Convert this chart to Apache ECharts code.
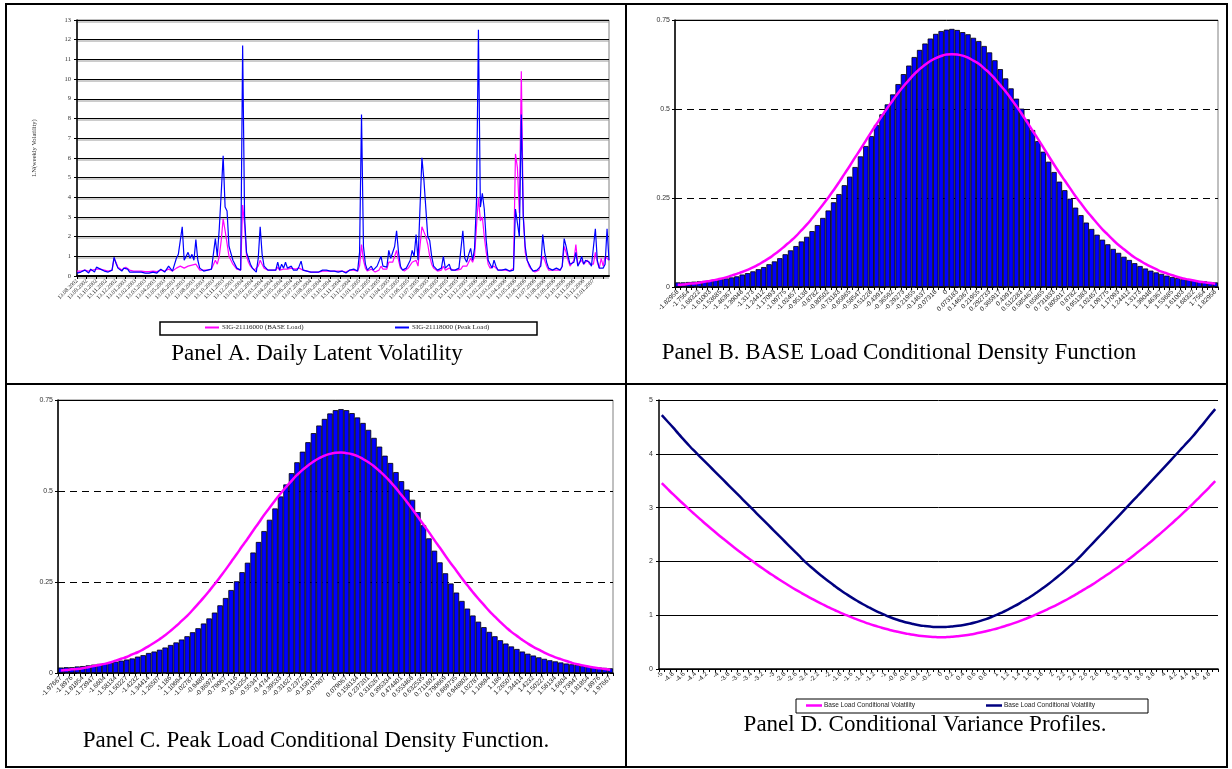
<!DOCTYPE html>
<html>
<head>
<meta charset="utf-8">
<script src="https://cdn.jsdelivr.net/npm/echarts@6/dist/echarts.min.js"></script>
<style>
html,body{margin:0;padding:0;background:#fff;}
#c{width:1232px;height:769px;}
</style>
</head>
<body>
<div id="c"></div>
<script>
// ---------- Panel A data ----------
const A_MONTHS = ['13.08.2002','13.09.2002','13.10.2002','13.11.2002','13.12.2002',
'13.01.2003','13.02.2003','13.03.2003','13.04.2003','13.05.2003','13.06.2003','13.07.2003','13.08.2003','13.09.2003','13.10.2003','13.11.2003','13.12.2003',
'13.01.2004','13.02.2004','13.03.2004','13.04.2004','13.05.2004','13.06.2004','13.07.2004','13.08.2004','13.09.2004','13.10.2004','13.11.2004','13.12.2004',
'13.01.2005','13.02.2005','13.03.2005','13.04.2005','13.05.2005','13.06.2005','13.07.2005','13.08.2005','13.09.2005','13.10.2005','13.11.2005','13.12.2005',
'13.01.2006','13.02.2006','13.03.2006','13.04.2006','13.05.2006','13.06.2006','13.07.2006','13.08.2006','13.09.2006','13.10.2006','13.11.2006','13.12.2006',
'13.01.2007'];
const A_PER_MONTH = 5;
const A_PEAK = [
0.15,0.2,0.2,0.25,0.3,0.2,0.15,0.35,0.25,0.2,
0.45,0.5,0.35,0.4,0.25,0.2,0.2,0.15,0.3,0.95,
0.65,0.4,0.3,0.25,0.4,0.5,0.35,0.2,0.15,0.2,
0.15,0.2,0.15,0.2,0.25,0.15,0.2,0.15,0.2,0.2,
0.25,0.15,0.2,0.35,0.3,0.2,0.25,0.5,0.4,0.25,
0.2,0.9,1.1,1.0,2.5,0.8,0.7,1.2,0.9,1.1,
0.8,1.85,0.8,0.4,0.3,0.25,0.2,0.3,0.3,0.35,
0.3,1.9,1.0,2.4,4.2,6.1,3.5,3.3,1.5,1.4,
0.8,0.9,0.4,0.3,0.3,11.7,3.0,1.2,1.1,0.6,
0.4,0.3,0.2,0.9,2.5,1.1,0.5,0.4,0.3,0.25,
0.3,0.25,0.3,0.7,0.3,0.6,0.4,0.7,0.4,0.3,
0.5,0.3,0.4,0.3,0.5,0.75,0.3,0.35,0.25,0.3,
0.2,0.3,0.2,0.15,0.2,0.2,0.3,0.25,0.3,0.3,
0.25,0.2,0.25,0.2,0.2,0.3,0.25,0.2,0.15,0.25,
0.3,0.3,0.35,0.3,0.25,1.2,8.2,1.5,0.6,0.3,
0.25,0.5,0.3,0.2,0.5,0.45,1.0,0.5,0.4,0.45,
1.3,0.9,1.0,1.5,2.3,1.2,0.5,0.3,0.25,0.4,
0.6,0.8,1.3,1.0,2.1,0.8,0.9,6.0,4.9,5.0,
2.0,1.8,1.0,0.5,0.4,0.3,0.3,0.4,1.0,0.4,
0.5,0.6,0.3,0.35,0.3,0.3,0.4,0.5,2.3,0.9,
0.7,1.1,1.4,0.8,1.4,3.8,12.5,3.5,4.2,3.4,
1.8,0.8,0.6,0.4,0.8,0.5,0.3,0.4,0.3,0.3,
0.35,0.3,0.25,0.3,0.3,3.4,2.7,2.0,8.2,3.0,
1.5,0.8,0.6,0.4,0.25,0.2,0.3,0.3,0.5,2.1,
1.2,0.7,0.4,0.3,0.3,0.3,0.4,0.3,0.3,0.5,
1.9,1.5,1.0,0.6,0.5,0.7,1.2,0.5,0.7,1.0,
0.6,0.8,0.9,0.7,0.5,0.6,2.4,0.8,0.4,0.5,
0.4,0.6,2.4,0.8];
const A_BASE = [
0.25,0.25,0.25,0.3,0.3,0.25,0.25,0.3,0.3,0.25,
0.35,0.4,0.35,0.35,0.3,0.25,0.25,0.25,0.3,0.9,
0.7,0.45,0.35,0.3,0.4,0.45,0.35,0.3,0.25,0.25,
0.22,0.25,0.22,0.25,0.25,0.22,0.25,0.22,0.25,0.25,
0.25,0.22,0.25,0.3,0.3,0.25,0.25,0.35,0.3,0.25,
0.25,0.4,0.5,0.5,0.6,0.4,0.4,0.5,0.45,0.55,
0.45,0.6,0.45,0.3,0.3,0.3,0.25,0.3,0.35,0.35,
0.3,0.8,0.6,1.0,1.8,2.9,2.3,2.2,1.0,0.9,
0.6,0.6,0.35,0.3,0.3,3.6,2.6,1.0,0.7,0.5,
0.4,0.3,0.25,0.5,0.8,0.6,0.4,0.35,0.3,0.3,
0.3,0.3,0.3,0.45,0.3,0.4,0.35,0.45,0.35,0.3,
0.4,0.3,0.35,0.3,0.4,0.5,0.3,0.3,0.25,0.25,
0.2,0.25,0.2,0.2,0.2,0.2,0.25,0.25,0.25,0.3,
0.25,0.2,0.25,0.2,0.25,0.25,0.25,0.25,0.2,0.25,
0.3,0.3,0.3,0.3,0.25,0.5,1.6,0.8,0.4,0.25,
0.25,0.35,0.25,0.2,0.3,0.3,0.5,0.35,0.3,0.35,
0.7,0.6,0.7,1.0,1.3,0.8,0.4,0.3,0.25,0.3,
0.4,0.5,0.7,0.6,0.8,0.5,0.6,2.5,2.6,2.0,
1.6,1.0,0.6,0.4,0.3,0.25,0.3,0.3,0.5,0.3,
0.35,0.4,0.3,0.3,0.25,0.3,0.3,0.35,0.5,0.5,
0.5,0.7,0.9,0.7,1.0,2.5,4.0,2.8,3.0,2.0,
1.2,0.6,0.4,0.35,0.5,0.4,0.3,0.3,0.3,0.3,
0.3,0.3,0.25,0.3,0.4,6.2,5.5,3.2,10.4,3.2,
1.2,0.8,0.5,0.35,0.25,0.2,0.25,0.3,0.4,1.0,
0.8,0.5,0.3,0.3,0.3,0.3,0.3,0.3,0.3,0.5,
1.5,1.2,0.8,0.5,0.5,0.8,1.6,0.6,0.6,0.8,
0.6,0.7,0.8,0.6,0.5,0.6,1.2,0.7,0.4,0.9,
0.5,1.0,1.0,0.8];

// ---------- Panel B data ----------
const B_X = ['-1.82958','-1.79299','-1.7564','-1.71981','-1.68322','-1.64663','-1.61003','-1.57344','-1.53685','-1.50026',
'-1.46367','-1.42707','-1.39048','-1.35389','-1.3173','-1.28071','-1.24412','-1.20752','-1.17093','-1.13434',
'-1.09775','-1.06116','-1.02457','-0.98797','-0.95138','-0.91479','-0.8782','-0.84161','-0.80502','-0.76842',
'-0.73183','-0.69524','-0.65865','-0.62206','-0.58547','-0.54887','-0.51228','-0.47569','-0.4391','-0.40251',
'-0.36592','-0.32932','-0.29273','-0.25614','-0.21955','-0.18296','-0.14637','-0.10977','-0.07318','-0.03659',
'0','0.036592','0.073183','0.109775','0.146367','0.182958','0.21955','0.256142','0.292733','0.329325',
'0.365917','0.402508','0.4391','0.475692','0.512283','0.548875','0.585467','0.622058','0.65865','0.695242',
'0.731833','0.768425','0.805017','0.841608','0.8782','0.914792','0.951383','0.987975','1.02457','1.06116',
'1.09775','1.13434','1.17093','1.20752','1.24412','1.28071','1.3173','1.35389','1.39048','1.42707',
'1.46367','1.50026','1.53685','1.57344','1.61003','1.64663','1.68322','1.71981','1.7564','1.79299',
'1.82958'];
const B_HIST = [
0.013,0.013,0.014,0.015,0.016,0.017,0.018,0.020,0.022,0.024,
0.027,0.030,0.035,0.039,0.044,0.050,0.056,0.064,0.072,0.081,
0.092,0.103,0.115,0.128,0.141,0.157,0.174,0.194,0.215,0.238,
0.261,0.286,0.310,0.337,0.367,0.396,0.424,0.455,0.485,0.513,
0.541,0.570,0.598,0.622,0.646,0.666,0.684,0.698,0.711,0.719,
0.723,0.725,0.722,0.716,0.710,0.700,0.691,0.677,0.659,0.637,
0.612,0.586,0.558,0.529,0.501,0.471,0.441,0.410,0.380,0.352,
0.323,0.296,0.272,0.248,0.223,0.202,0.181,0.163,0.147,0.133,
0.120,0.107,0.096,0.085,0.076,0.067,0.059,0.052,0.046,0.041,
0.037,0.032,0.028,0.025,0.022,0.021,0.019,0.017,0.016,0.014,
0.013];
const B_NORMAL = [
0.006,0.007,0.009,0.010,0.012,0.015,0.017,0.020,0.023,0.027,
0.032,0.037,0.042,0.048,0.055,0.063,0.072,0.081,0.092,0.103,
0.116,0.129,0.143,0.159,0.175,0.193,0.212,0.231,0.251,0.272,
0.294,0.317,0.340,0.364,0.387,0.411,0.435,0.458,0.481,0.503,
0.524,0.545,0.564,0.581,0.598,0.612,0.624,0.635,0.643,0.649,
0.653,0.654,0.653,0.650,0.644,0.636,0.627,0.614,0.601,0.585,
0.567,0.549,0.529,0.508,0.486,0.463,0.439,0.416,0.392,0.368,
0.344,0.321,0.299,0.277,0.255,0.235,0.215,0.197,0.179,0.162,
0.147,0.132,0.118,0.106,0.094,0.083,0.074,0.065,0.057,0.050,
0.043,0.038,0.033,0.028,0.024,0.021,0.018,0.015,0.013,0.011,
0.009];

// ---------- Panel C data ----------
const C_X = ['-1.97667','-1.93714','-1.8976','-1.85807','-1.81854','-1.779','-1.73947','-1.69994','-1.6604','-1.62087',
'-1.58134','-1.5418','-1.50227','-1.46274','-1.4232','-1.38367','-1.34414','-1.3046','-1.26507','-1.22554',
'-1.186','-1.14647','-1.10694','-1.0674','-1.02787','-0.98834','-0.9488','-0.90927','-0.86974','-0.8302',
'-0.79067','-0.75114','-0.7116','-0.67207','-0.63254','-0.593','-0.55347','-0.51394','-0.4744','-0.43487',
'-0.39533','-0.3558','-0.31627','-0.27674','-0.2372','-0.19767','-0.15813','-0.1186','-0.07907','-0.03953',
'0','0.039534','0.079067','0.1186','0.158134','0.197667','0.237201','0.276734','0.316267','0.355801',
'0.395334','0.434868','0.474401','0.513935','0.553468','0.593002','0.632535','0.672068','0.711602','0.751135',
'0.790669','0.830202','0.869735','0.909269','0.948802','0.988336','1.02787','1.0674','1.10694','1.14647',
'1.186','1.22554','1.26507','1.3046','1.34414','1.38367','1.4232','1.46274','1.50227','1.5418',
'1.58134','1.62087','1.6604','1.69994','1.73947','1.779','1.81854','1.85807','1.8976','1.93714',
'1.97667'];
const C_HIST = [
0.015,0.016,0.016,0.018,0.019,0.021,0.023,0.025,0.027,0.028,
0.031,0.034,0.037,0.040,0.045,0.049,0.055,0.059,0.064,0.070,
0.077,0.084,0.092,0.101,0.112,0.123,0.136,0.150,0.166,0.186,
0.206,0.228,0.252,0.277,0.303,0.331,0.360,0.390,0.421,0.452,
0.485,0.518,0.549,0.579,0.608,0.634,0.659,0.680,0.698,0.713,
0.722,0.725,0.722,0.714,0.702,0.687,0.668,0.646,0.622,0.597,
0.577,0.552,0.527,0.504,0.476,0.442,0.406,0.370,0.336,0.304,
0.274,0.246,0.221,0.198,0.177,0.158,0.141,0.126,0.113,0.101,
0.090,0.081,0.073,0.066,0.059,0.053,0.048,0.043,0.039,0.035,
0.032,0.029,0.026,0.024,0.022,0.020,0.018,0.016,0.015,0.014,
0.013];
const C_NORMAL = [
0.007,0.008,0.010,0.011,0.013,0.016,0.019,0.022,0.025,0.029,
0.034,0.039,0.044,0.051,0.057,0.065,0.074,0.083,0.093,0.104,
0.116,0.129,0.143,0.157,0.173,0.190,0.207,0.225,0.244,0.264,
0.284,0.305,0.326,0.348,0.369,0.391,0.412,0.434,0.454,0.474,
0.493,0.511,0.528,0.544,0.558,0.570,0.581,0.590,0.597,0.602,
0.605,0.606,0.604,0.601,0.596,0.588,0.579,0.568,0.555,0.541,
0.525,0.508,0.489,0.470,0.450,0.429,0.408,0.387,0.365,0.344,
0.322,0.301,0.281,0.260,0.241,0.222,0.204,0.187,0.170,0.155,
0.140,0.126,0.113,0.102,0.091,0.081,0.072,0.064,0.056,0.049,
0.043,0.038,0.033,0.028,0.024,0.021,0.018,0.015,0.013,0.011,
0.009];

// ---------- Panel D data ----------
const D_X = ['-5','-4.9','-4.8','-4.7','-4.6','-4.5','-4.4','-4.3','-4.2','-4.1',
'-4','-3.9','-3.8','-3.7','-3.6','-3.5','-3.4','-3.3','-3.2','-3.1',
'-3','-2.9','-2.8','-2.7','-2.6','-2.5','-2.4','-2.3','-2.2','-2.1',
'-2','-1.9','-1.8','-1.7','-1.6','-1.5','-1.4','-1.3','-1.2','-1.1',
'-1','-0.9','-0.8','-0.7','-0.6','-0.5','-0.4','-0.3','-0.2','-0.1',
'0','0.1','0.2','0.3','0.4','0.5','0.6','0.7','0.8','0.9',
'1','1.1','1.2','1.3','1.4','1.5','1.6','1.7','1.8','1.9',
'2','2.1','2.2','2.3','2.4','2.5','2.6','2.7','2.8','2.9',
'3','3.1','3.2','3.3','3.4','3.5','3.6','3.7','3.8','3.9',
'4','4.1','4.2','4.3','4.4','4.5','4.6','4.7','4.8','4.9'];
const D_BASE = [
3.453,3.351,3.25,3.151,3.054,2.958,2.865,2.773,2.682,2.593,
2.506,2.421,2.337,2.255,2.175,2.097,2.02,1.945,1.872,1.801,
1.732,1.664,1.598,1.534,1.472,1.412,1.354,1.298,1.243,1.191,
1.14,1.092,1.045,1.001,0.958,0.918,0.88,0.843,0.809,0.778,
0.748,0.721,0.696,0.673,0.653,0.635,0.62,0.608,0.599,0.593,
0.59,0.593,0.6,0.61,0.622,0.638,0.656,0.677,0.701,0.727,
0.754,0.785,0.817,0.852,0.89,0.93,0.971,1.015,1.061,1.11,
1.159,1.212,1.266,1.323,1.382,1.442,1.505,1.569,1.636,1.705,
1.776,1.848,1.923,2.0,2.078,2.159,2.242,2.326,2.412,2.501,
2.591,2.683,2.778,2.874,2.972,3.071,3.173,3.277,3.383,3.491];
const D_PEAK = [
4.72,4.605,4.49,4.37,4.255,4.14,4.034,3.93,3.826,3.722,
3.618,3.514,3.41,3.306,3.202,3.098,2.994,2.89,2.786,2.682,
2.578,2.474,2.37,2.266,2.162,2.058,1.959,1.868,1.78,1.696,
1.615,1.538,1.464,1.394,1.327,1.264,1.204,1.148,1.095,1.046,
1.0,0.958,0.921,0.888,0.859,0.835,0.815,0.8,0.789,0.782,
0.78,0.783,0.791,0.802,0.818,0.839,0.864,0.894,0.928,0.967,
1.01,1.058,1.108,1.163,1.221,1.283,1.348,1.418,1.49,1.567,
1.647,1.732,1.819,1.911,2.006,2.109,2.218,2.327,2.436,2.546,
2.655,2.765,2.875,2.985,3.096,3.206,3.317,3.428,3.54,3.651,
3.763,3.875,3.987,4.099,4.211,4.326,4.451,4.575,4.706,4.831];

// sanity checks
if (A_PEAK.length !== A_BASE.length) throw new Error('A length ' + A_PEAK.length + ' vs ' + A_BASE.length);
[[B_X,B_HIST,B_NORMAL,101],[C_X,C_HIST,C_NORMAL,101],[D_X,D_BASE,D_PEAK,100]].forEach(function(g,k){
  if (g[0].length!==g[3]||g[1].length!==g[3]||g[2].length!==g[3]) throw new Error('len '+k+': '+g[0].length+','+g[1].length+','+g[2].length);
});

const A_IDX = A_PEAK.map(function(_, i){ return i; });

const SERIF = 'Liberation Serif';
const SANS = 'Liberation Sans';
const NAME_A1 = 'SIG-21116000 (BASE Load)';
const NAME_A2 = 'SIG-21118000 (Peak Load)';
const NAME_D1 = 'Base Load Conditional Volatility';
const NAME_D2 = 'Base Load Conditional Volatility ';

function densityX(gi, data){
  return {gridIndex:gi, type:'category', data:data, boundaryGap:true,
    axisLine:{show:true, lineStyle:{color:'#000', width:1.5}},
    axisTick:{show:true, interval:0, length:3, lineStyle:{color:'#000', width:1}},
    axisLabel:{show:true, interval:1, rotate:45, fontSize:6.5, fontFamily:SANS, color:'#222', margin:4},
    splitLine:{show:false}};
}
function densityY(gi){
  return {gridIndex:gi, type:'value', min:0, max:0.75, interval:0.25,
    axisLine:{show:true, lineStyle:{color:'#000', width:1.5}},
    axisTick:{show:true, length:3, lineStyle:{color:'#000'}},
    axisLabel:{fontSize:7, fontFamily:SANS, color:'#333', margin:5,
      formatter:function(v){ return String(v); }},
    splitLine:{show:true, lineStyle:{color:'#000', width:1, type:[7,5]}}};
}
function barSeries(xi, data){
  return {type:'bar', xAxisIndex:xi, yAxisIndex:xi, data:data, barCategoryGap:'0%',
    itemStyle:{color:'#0000FF', borderColor:'#000', borderWidth:0.8},
    silent:true, z:2,
    markLine:{silent:true, symbol:'none', label:{show:false},
      lineStyle:{color:'#000', type:'solid', width:1}, data:[{yAxis:0.75}]}};
}
function curveSeries(xi, data){
  return {type:'line', xAxisIndex:xi, yAxisIndex:xi, data:data, smooth:true,
    showSymbol:false, symbol:'none', silent:true, z:5,
    lineStyle:{color:'#FF00FF', width:2.5}};
}

const option = {
  animation:false,
  backgroundColor:'#fff',
  textStyle:{fontFamily:SANS},
  grid:[
    {left:77, top:20, width:532, height:256, show:true, borderColor:'#808080', borderWidth:1, backgroundColor:'#fff'},
    {left:675, top:20, width:543, height:267, show:true, borderColor:'#808080', borderWidth:1},
    {left:58, top:400, width:555, height:273, show:true, borderColor:'#808080', borderWidth:1},
    {left:659, top:400, width:559, height:269, show:false}
  ],
  xAxis:[
    {gridIndex:0, type:'category', data:A_IDX, boundaryGap:false,
      axisLine:{show:true, lineStyle:{color:'#000', width:2}},
      axisTick:{show:true, interval:function(i){ return i % A_PER_MONTH === 0; }, length:3, lineStyle:{color:'#000'}},
      axisLabel:{show:true, interval:function(i){ return i % A_PER_MONTH === 0; },
        formatter:function(v, i){ return (i % A_PER_MONTH === 0 && A_MONTHS[i / A_PER_MONTH]) ? A_MONTHS[i / A_PER_MONTH] : ''; },
        rotate:45, fontSize:5.8, fontFamily:SERIF, color:'#222', margin:4},
      splitLine:{show:false}},
    densityX(1, B_X),
    densityX(2, C_X),
    {gridIndex:3, type:'category', data:D_X, boundaryGap:true,
      axisLine:{show:true, lineStyle:{color:'#000', width:1.5}},
      axisTick:{show:true, interval:0, length:3, lineStyle:{color:'#000'}},
      axisLabel:{show:true, interval:1, rotate:45, fontSize:6.5, fontFamily:SANS, color:'#222', margin:4},
      splitLine:{show:false}}
  ],
  yAxis:[
    {gridIndex:0, type:'value', min:0, max:13, interval:1,
      axisLine:{show:true, lineStyle:{color:'#000', width:1.5}},
      axisTick:{show:true, length:3, lineStyle:{color:'#000'}},
      axisLabel:{fontSize:6.5, fontFamily:SERIF, color:'#333', margin:6},
      splitLine:{show:true, lineStyle:{color:'#000', width:1, shadowColor:'#9a9a9a', shadowOffsetY:1.5, shadowBlur:0}},
      name:'LN(weekly Volatility)', nameLocation:'middle', nameGap:39, nameRotate:90,
      nameTextStyle:{fontSize:6.5, fontFamily:SERIF, color:'#333'}},
    densityY(1),
    densityY(2),
    {gridIndex:3, type:'value', min:0, max:5, interval:1,
      axisLine:{show:true, lineStyle:{color:'#000', width:1.5}},
      axisTick:{show:true, length:3, lineStyle:{color:'#000'}},
      axisLabel:{fontSize:7, fontFamily:SANS, color:'#333', margin:6},
      splitLine:{show:true, lineStyle:{color:'#000', width:1}}}
  ],
  legend:[
    {data:[NAME_A1], left:205, top:324, padding:0, itemWidth:14, itemHeight:2, icon:'rect', selectedMode:false,
      textStyle:{fontSize:7, fontFamily:SERIF, color:'#222', padding:[0,0,0,-2]}},
    {data:[NAME_A2], left:395, top:324, padding:0, itemWidth:14, itemHeight:2, icon:'rect', selectedMode:false,
      textStyle:{fontSize:7, fontFamily:SERIF, color:'#222', padding:[0,0,0,-2]}},
    {data:[NAME_D1], left:806, top:702, padding:0, itemWidth:16, itemHeight:2.5, icon:'rect', selectedMode:false,
      textStyle:{fontSize:6.5, fontFamily:SANS, color:'#222', padding:[0,0,0,-3]}},
    {data:[NAME_D2], left:986, top:702, padding:0, itemWidth:16, itemHeight:2.5, icon:'rect', selectedMode:false,
      textStyle:{fontSize:6.5, fontFamily:SANS, color:'#222', padding:[0,0,0,-3]}}
  ],
  series:[
    {name:NAME_A1, type:'line', xAxisIndex:0, yAxisIndex:0, data:A_BASE, showSymbol:false, symbol:'none',
      lineStyle:{color:'#FF00FF', width:1.2}, itemStyle:{color:'#FF00FF'}, z:3},
    {name:NAME_A2, type:'line', xAxisIndex:0, yAxisIndex:0, data:A_PEAK, showSymbol:false, symbol:'none',
      lineStyle:{color:'#0000FF', width:1.2}, itemStyle:{color:'#0000FF'}, z:4},
    barSeries(1, B_HIST),
    curveSeries(1, B_NORMAL),
    barSeries(2, C_HIST),
    curveSeries(2, C_NORMAL),
    {name:NAME_D1, type:'line', xAxisIndex:3, yAxisIndex:3, data:D_BASE, smooth:true, showSymbol:false, symbol:'none',
      lineStyle:{color:'#FF00FF', width:2.5}, itemStyle:{color:'#FF00FF'}, z:4},
    {name:NAME_D2, type:'line', xAxisIndex:3, yAxisIndex:3, data:D_PEAK, smooth:true, showSymbol:false, symbol:'none',
      lineStyle:{color:'#000080', width:2.5}, itemStyle:{color:'#000080'}, z:5}
  ],
  graphic:[
    {type:'rect', silent:true, z:100, shape:{x:6, y:4, width:1221, height:763}, style:{fill:'none', stroke:'#000', lineWidth:2}},
    {type:'line', silent:true, z:100, shape:{x1:626, y1:4, x2:626, y2:767}, style:{stroke:'#000', lineWidth:2}},
    {type:'line', silent:true, z:100, shape:{x1:6, y1:384, x2:1227, y2:384}, style:{stroke:'#000', lineWidth:2}},
    {type:'rect', silent:true, z:100, shape:{x:160, y:322, width:377, height:13}, style:{fill:'none', stroke:'#000', lineWidth:1.5}},
    {type:'rect', silent:true, z:100, shape:{x:796, y:699, width:352, height:14}, style:{fill:'none', stroke:'#000', lineWidth:1}},
    {type:'text', silent:true, z:100, x:317, y:354, style:{text:'Panel A. Daily Latent Volatility', font:'23px "Liberation Serif"', fill:'#000', align:'center', verticalAlign:'middle'}},
    {type:'text', silent:true, z:100, x:899, y:353, style:{text:'Panel B. BASE Load Conditional Density Function', font:'23px "Liberation Serif"', fill:'#000', align:'center', verticalAlign:'middle'}},
    {type:'text', silent:true, z:100, x:316, y:741, style:{text:'Panel C. Peak Load Conditional Density Function.', font:'23px "Liberation Serif"', fill:'#000', align:'center', verticalAlign:'middle'}},
    {type:'text', silent:true, z:100, x:925, y:725, style:{text:'Panel D. Conditional Variance Profiles.', font:'23px "Liberation Serif"', fill:'#000', align:'center', verticalAlign:'middle'}}
  ]
};

const chart = echarts.init(document.getElementById('c'), null, {renderer:'canvas', width:1232, height:769});
chart.setOption(option);
</script>
</body>
</html>
